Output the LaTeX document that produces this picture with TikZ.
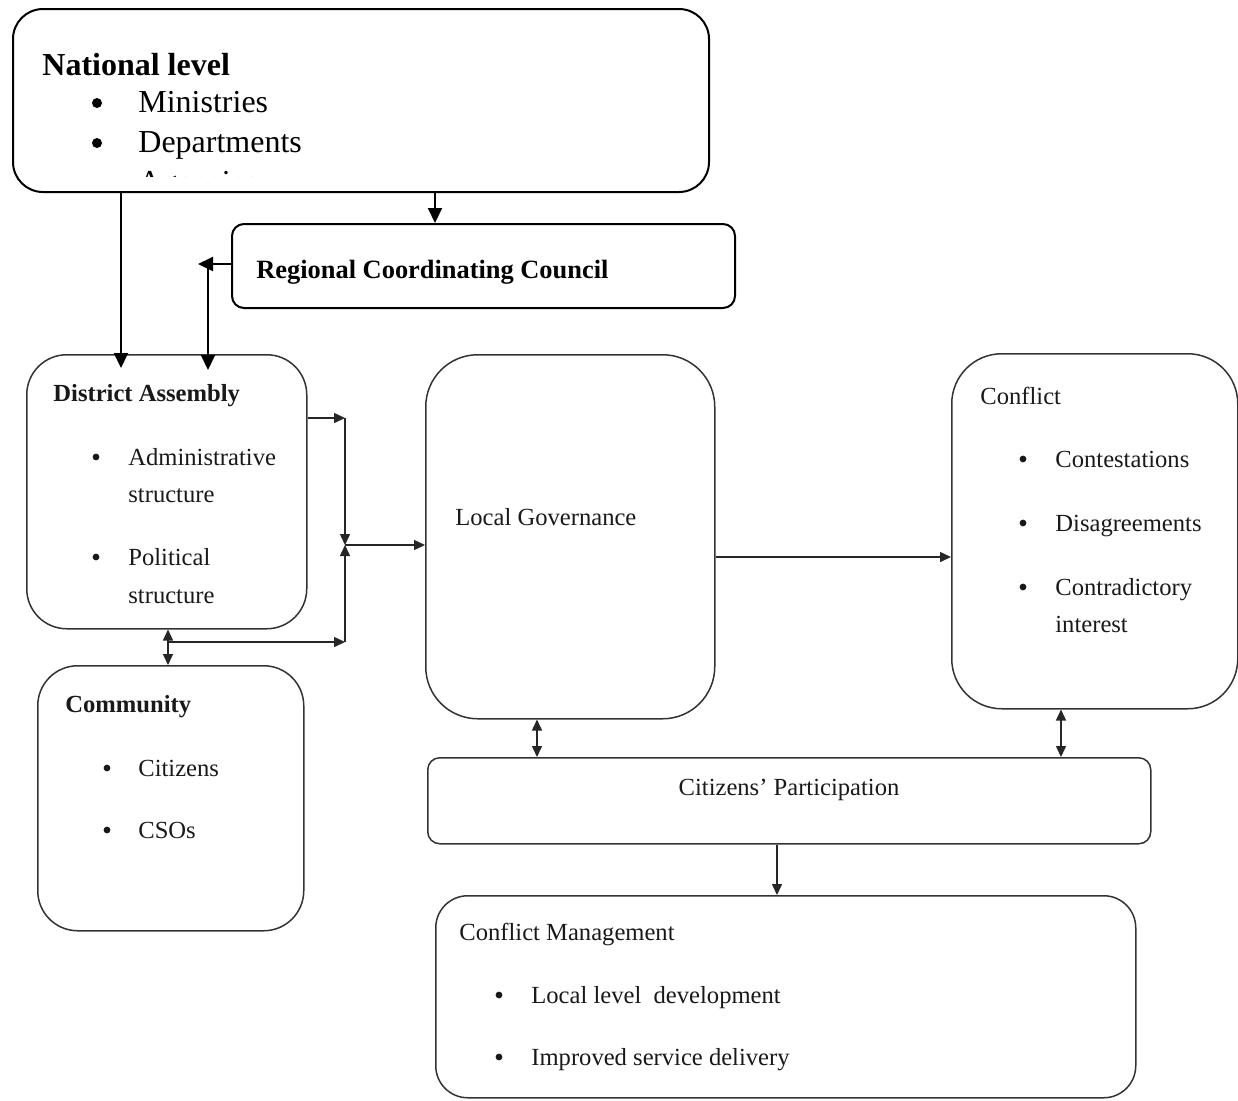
\documentclass[tikz,border=0pt]{standalone}
\usepackage{fontspec}
\setmainfont{Liberation Serif}
\usetikzlibrary{arrows.meta,calc}
\begin{document}
\begin{tikzpicture}[x=0.5pt,y=-0.5pt,
  boxT/.style={draw=black, line width=1pt, rounded corners=#1, inner sep=0pt, anchor=north west},
  boxL/.style={draw=black!80, line width=0.75pt, rounded corners=#1, inner sep=0pt, anchor=north west},
  txt/.style={anchor=base west, inner sep=0pt},
  topfont/.style={font=\fontsize{16}{19}\selectfont},
  rccfont/.style={font=\fontsize{13.2}{16}\selectfont\bfseries},
  lowfont/.style={font=\fontsize{12.3}{15}\selectfont, text=black!90},
  bulT/.style={circle, fill=black, inner sep=0pt, minimum size=5pt},
  bulL/.style={circle, fill=black!90, inner sep=0pt, minimum size=3.4pt},
  arrT/.style={draw=black, line width=1pt, -{Triangle[length=7.5pt,width=7pt]}},
  arr/.style={draw=black!85, line width=0.75pt, -{Triangle[length=5.5pt,width=5pt]}},
  arrD/.style={draw=black!85, line width=0.75pt, {Triangle[length=5.5pt,width=5pt]}-{Triangle[length=5.5pt,width=5pt]}}
]
\useasboundingbox (0,0) rectangle (1238,1100);

% ---------- boxes ----------
\node[boxT=15pt, minimum width=348pt, minimum height=91.5pt] (nat) at (12,8) {};
\node[boxT=6pt, minimum width=251.5pt, minimum height=42pt] (rcc) at (231,223) {};
\node[boxL=20pt, minimum width=140pt, minimum height=137pt] (da) at (26,354) {};
\node[boxL=20pt, minimum width=133pt, minimum height=132.5pt] (com) at (37,665) {};
\node[boxL=26pt, minimum width=144.5pt, minimum height=182pt] (lg) at (425,354) {};
\node[boxL=25pt, minimum width=143pt, minimum height=177.5pt] (con) at (951,353) {};
\node[boxL=6pt, minimum width=361.5pt, minimum height=43pt] (cp) at (427,757) {};
\node[boxL=16pt, minimum width=350pt, minimum height=101pt] (cm) at (435,895) {};

% ---------- national level text ----------
\node[txt, font=\fontsize{16}{19}\selectfont\bfseries] (natT) at (42,75) {National level};
\node[bulT] (natB1) at (97,103) {};
\node[txt, topfont] (natI1) at (138,112) {Ministries};
\node[bulT] (natB2) at (97,143) {};
\node[txt, topfont] (natI2) at (138,152) {Departments};
\begin{scope}
  \clip (12,8) rectangle (708,176);
  \node[bulT] (natB3) at (97,183) {};
  \node[txt, topfont] (natI3) at (138,192) {Agencies};
\end{scope}

% ---------- RCC text ----------
\node[txt, rccfont] (rccT) at (256,278) {Regional Coordinating Council};

% ---------- District Assembly ----------
\node[txt, font=\fontsize{12.3}{15}\selectfont\bfseries, text=black!90] (daT) at (53,401) {District Assembly};
\node[bulL] (daB1) at (96,457) {};
\node[txt, lowfont] (daI1) at (128,465) {Administrative};
\node[txt, lowfont] (daI1b) at (128,502) {structure};
\node[bulL] (daB2) at (96,557) {};
\node[txt, lowfont] (daI2) at (128,565) {Political};
\node[txt, lowfont] (daI2b) at (128,603) {structure};

% ---------- Community ----------
\node[txt, font=\fontsize{12.3}{15}\selectfont\bfseries, text=black!90] (comT) at (65,712) {Community};
\node[bulL] (comB1) at (107,768) {};
\node[txt, lowfont] (comI1) at (138,776) {Citizens};
\node[bulL] (comB2) at (107,830) {};
\node[txt, lowfont] (comI2) at (138,838) {CSOs};

% ---------- Local Governance ----------
\node[txt, lowfont] (lgT) at (455,525) {Local Governance};

% ---------- Conflict ----------
\node[txt, lowfont] (conT) at (980,404) {Conflict};
\node[bulL] (conB1) at (1023,459) {};
\node[txt, lowfont] (conI1) at (1055,467) {Contestations};
\node[bulL] (conB2) at (1023,523) {};
\node[txt, lowfont] (conI2) at (1055,531) {Disagreements};
\node[bulL] (conB3) at (1023,587) {};
\node[txt, lowfont] (conI3) at (1055,595) {Contradictory};
\node[txt, lowfont] (conI3b) at (1055,632) {interest};

% ---------- Citizens' Participation ----------
\node[anchor=base, inner sep=0pt, lowfont] (cpT) at (789,795) {Citizens’ Participation};

% ---------- Conflict Management ----------
\node[txt, lowfont] (cmT) at (459,940) {Conflict Management};
\node[bulL] (cmB1) at (499,995) {};
\node[txt, lowfont] (cmI1) at (531,1003) {Local level\ \ development};
\node[bulL] (cmB2) at (499,1057) {};
\node[txt, lowfont] (cmI2) at (531,1065) {Improved service delivery};

% ---------- coordinates for connector ends ----------
\coordinate (a1) at (121,368);
\coordinate (a2) at (435,223);
\coordinate (a3) at (198,264);
\coordinate (a4) at (208,370);
\coordinate (j1) at (345,418);
\coordinate (j2) at (345,545);
\coordinate (j3) at (345,642);
\coordinate (k1) at (168,642);
\coordinate (lgc) at (537,0);
\coordinate (cnc) at (1061,0);
\coordinate (cpc) at (777,0);
\coordinate (hz) at (0,557);

% ---------- connectors ----------
\draw[arrT] (nat.south -| a1) -- (a1);
\draw[arrT] (nat.south -| a2) -- (a2);
\draw[arrT] (rcc.west |- a3) -- (a3);
\draw[arrT] (a3 -| a4) -- (a4);

\draw[arr] (da.east |- j1) -- (j1);
\draw[arr] (j1) -- (j2);
\draw[arr] (j3) -- (j2);
\draw[arr] (j2) -- (lg.west |- j2);
\draw[arrD] (da.south -| k1) -- (com.north -| k1);
\draw[arr] (k1) -- (j3);

\draw[arr] (lg.east |- hz) -- (con.west |- hz);
\draw[arrD] (lg.south -| lgc) -- (cp.north -| lgc);
\draw[arrD] (con.south -| cnc) -- (cp.north -| cnc);
\draw[arr] (cp.south -| cpc) -- (cm.north -| cpc);
\end{tikzpicture}
\end{document}
